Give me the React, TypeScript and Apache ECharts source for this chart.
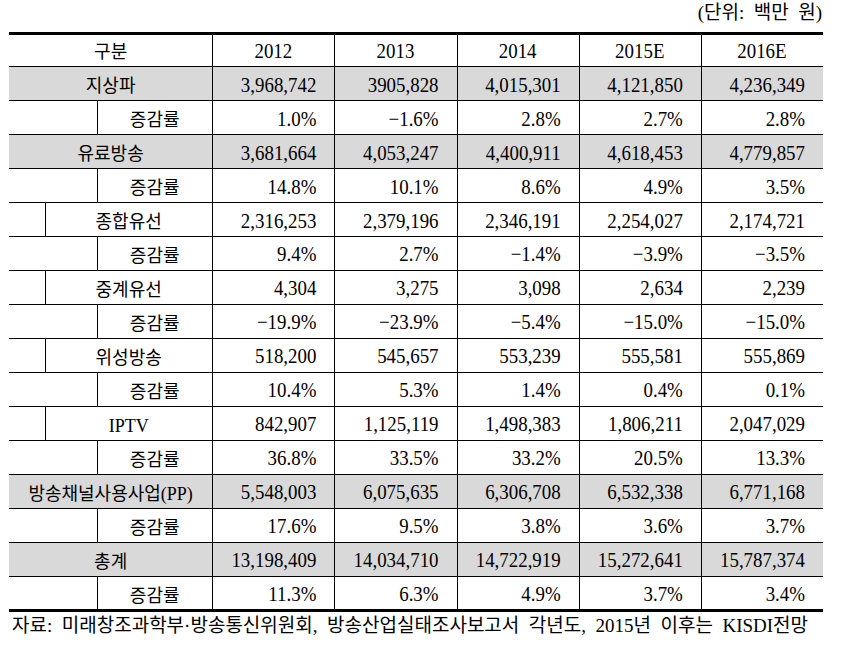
import React, { useEffect, useRef } from 'react';
import * as echarts from 'echarts';

// ---------- data ----------
const years = ['2012', '2013', '2014', '2015E', '2016E'];
const terrestrial = ['3,968,742', '3905,828', '4,015,301', '4,121,850', '4,236,349'];
const terrestrialGrowth = [1.0, -1.6, 2.8, 2.7, 2.8];
const payTV = ['3,681,664', '4,053,247', '4,400,911', '4,618,453', '4,779,857'];
const payTVGrowth = [14.8, 10.1, 8.6, 4.9, 3.5];
const cable = ['2,316,253', '2,379,196', '2,346,191', '2,254,027', '2,174,721'];
const cableGrowth = [9.4, 2.7, -1.4, -3.9, -3.5];
const relayCable = ['4,304', '3,275', '3,098', '2,634', '2,239'];
const relayCableGrowth = [-19.9, -23.9, -5.4, -15.0, -15.0];
const satellite = ['518,200', '545,657', '553,239', '555,581', '555,869'];
const satelliteGrowth = [10.4, 5.3, 1.4, 0.4, 0.1];
const iptv = ['842,907', '1,125,119', '1,498,383', '1,806,211', '2,047,029'];
const iptvGrowth = [36.8, 33.5, 33.2, 20.5, 13.3];
const pp = ['5,548,003', '6,075,635', '6,306,708', '6,532,338', '6,771,168'];
const ppGrowth = [17.6, 9.5, 3.8, 3.6, 3.7];
const total = ['13,198,409', '14,034,710', '14,722,919', '15,272,641', '15,787,374'];
const totalGrowth = [11.3, 6.3, 4.9, 3.7, 3.4];

const headerLabel = '구분';
const growthLabel = '증감률';
const unitNote = '(단위: 백만 원)';
const sourceNote = '자료: 미래창조과학부·방송통신위원회, 방송산업실태조사보고서 각년도, 2015년 이후는 KISDI전망';

const pct = (v: number) => (v < 0 ? '\u2212' : '') + Math.abs(v).toFixed(1) + '%';
// wider word spacing, as in the source document's typeface
const wide = (s: string) => s.replace(/ /g, '\u2002');

type Row = { kind: 'header' | 'main' | 'sub' | 'growth'; label: string; cells: string[] };
const rows: Row[] = [
  { kind: 'header', label: headerLabel, cells: years },
  { kind: 'main', label: '지상파', cells: terrestrial },
  { kind: 'growth', label: growthLabel, cells: terrestrialGrowth.map(pct) },
  { kind: 'main', label: '유료방송', cells: payTV },
  { kind: 'growth', label: growthLabel, cells: payTVGrowth.map(pct) },
  { kind: 'sub', label: '종합유선', cells: cable },
  { kind: 'growth', label: growthLabel, cells: cableGrowth.map(pct) },
  { kind: 'sub', label: '중계유선', cells: relayCable },
  { kind: 'growth', label: growthLabel, cells: relayCableGrowth.map(pct) },
  { kind: 'sub', label: '위성방송', cells: satellite },
  { kind: 'growth', label: growthLabel, cells: satelliteGrowth.map(pct) },
  { kind: 'sub', label: 'IPTV', cells: iptv },
  { kind: 'growth', label: growthLabel, cells: iptvGrowth.map(pct) },
  { kind: 'main', label: '방송채널사용사업(PP)', cells: pp },
  { kind: 'growth', label: growthLabel, cells: ppGrowth.map(pct) },
  { kind: 'main', label: '총계', cells: total },
  { kind: 'growth', label: growthLabel, cells: totalGrowth.map(pct) },
];

// ---------- layout (x axis units: one year column = 1) ----------
const LABEL_W = 1.664;
const XMAX = LABEL_W + years.length;
const INDENT: Record<string, number> = { header: 0, main: 0, sub: 0.295, growth: 0.721 };
const NUM_FONT = '"Liberation Serif", "Noto Sans CJK KR", serif';
const KO_FONT = '"Liberation Serif", "Noto Sans CJK KR", sans-serif';
const GRAY = '#d9d9d9';
const INK = '#000000';

export default function App() {
  const ref = useRef<HTMLDivElement>(null);
  useEffect(() => {
    if (!ref.current) return;
    const chart = echarts.init(ref.current, undefined, { renderer: 'svg' });

    const bgRender = (params: any, api: any) => {
      const i = api.value(1);
      const r = rows[i];
      if (r.kind !== 'main') return { type: 'group', children: [] };
      const [x0, yc] = api.coord([0, i]);
      const [x1] = api.coord([XMAX, i]);
      const h = api.size([0, 1])[1];
      const top = Math.round(yc - h / 2);
      const bottom = Math.round(yc + h / 2);
      return {
        type: 'rect',
        shape: { x: x0, y: top, width: x1 - x0, height: bottom - top },
        style: { fill: GRAY },
      };
    };

    const rowRender = (params: any, api: any) => {
      const i = api.value(1);
      const r = rows[i];
      const [x0, yc] = api.coord([0, i]);
      const [x1] = api.coord([XMAX, i]);
      const h = api.size([0, 1])[1];
      const top = Math.round(yc - h / 2);
      const bottom = Math.round(yc + h / 2);
      const children: any[] = [];
      children.push({
        type: 'line',
        shape: { x1: x0, y1: top + 0.5, x2: x1, y2: top + 0.5 },
        style: { stroke: INK, lineWidth: i === 0 ? 3 : 1 },
      });
      if (i === rows.length - 1) {
        children.push({ type: 'line', shape: { x1: x0, y1: bottom + 0.5, x2: x1, y2: bottom + 0.5 }, style: { stroke: INK, lineWidth: 3 } });
      }
      for (let c = 0; c < years.length; c++) {
        const vx = Math.round(api.coord([LABEL_W + c, i])[0]) + 0.5;
        children.push({ type: 'line', shape: { x1: vx, y1: top, x2: vx, y2: bottom }, style: { stroke: INK, lineWidth: 1 } });
      }
      const ind = INDENT[r.kind];
      if (ind > 0) {
        const vx = Math.round(api.coord([ind, i])[0]) + 0.5;
        children.push({ type: 'line', shape: { x1: vx, y1: top, x2: vx, y2: bottom }, style: { stroke: INK, lineWidth: 1 } });
      }
      const lx = (api.coord([ind, i])[0] + api.coord([LABEL_W, i])[0]) / 2;
      children.push({
        type: 'text',
        x: lx,
        y: yc + 3,
        style: { text: r.label, x: 0, y: 0, fill: INK, fontSize: 18, fontFamily: KO_FONT, align: 'center', verticalAlign: 'middle' },
      });
      r.cells.forEach((t, c) => {
        const cl = api.coord([LABEL_W + c, i])[0];
        const cr = api.coord([LABEL_W + c + 1, i])[0];
        const isHead = r.kind === 'header';
        children.push({
          type: 'text',
          x: isHead ? (cl + cr) / 2 : cr - 18,
          y: yc + 1,
          scaleX: 0.9,
          style: {
            text: t, x: 0, y: 0, fill: INK, fontSize: 21, fontFamily: NUM_FONT,
            align: isHead ? 'center' : 'right', verticalAlign: 'middle',
          },
        });
      });
      return { type: 'group', children };
    };

    chart.setOption({
      animation: false,
      backgroundColor: '#ffffff',
      grid: { left: 9, right: 21, top: 32.5, bottom: 49.5 },
      xAxis: { type: 'value', min: 0, max: XMAX, show: false },
      yAxis: { type: 'category', inverse: true, data: rows.map((_, i) => String(i)), show: false },
      series: [
        { type: 'custom', z: 1, renderItem: bgRender, data: rows.map((_, i) => [0, i]), clip: false, silent: true },
        { type: 'custom', z: 2, renderItem: rowRender, data: rows.map((_, i) => [0, i]), clip: false, silent: true },
      ],
      graphic: [
        { type: 'text', right: 22, top: 3, style: { text: wide(unitNote), fill: INK, fontSize: 19, fontFamily: KO_FONT } },
        { type: 'text', left: 12, top: 616, style: { text: wide(sourceNote), fill: INK, fontSize: 19, fontFamily: KO_FONT } },
      ],
    });
    return () => chart.dispose();
  }, []);
  return (
    <div
      ref={ref}
      style={{ position: 'fixed', left: 0, top: 0, width: 844, height: 659, background: '#ffffff' }}
    />
  );
}
